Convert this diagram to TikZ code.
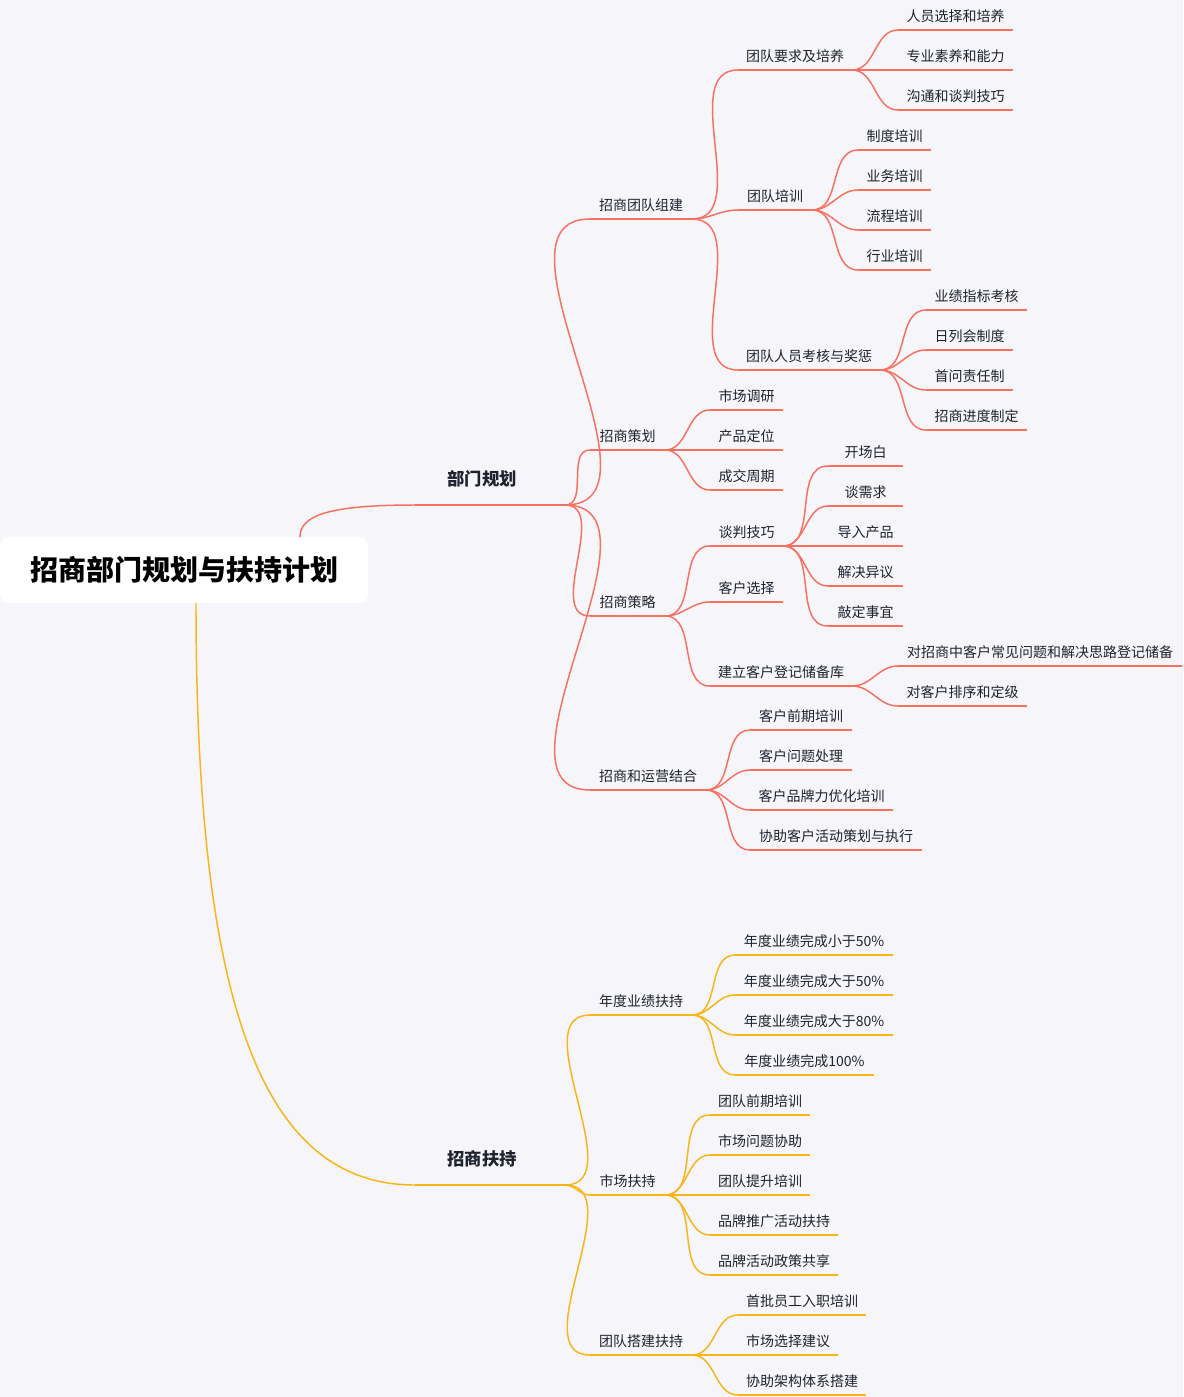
\documentclass[tikz,border=0pt]{standalone}
\usepackage{fontspec}
\setmainfont{Noto Sans CJK SC}
\definecolor{rd}{RGB}{248,112,96}
\definecolor{yl}{RGB}{249,181,22}
\definecolor{bg}{RGB}{245,245,250}
\definecolor{tx}{RGB}{30,35,45}
\newcommand\lf[6]{% color,name,x1,x2,y,text
 \draw[#1,line width=1.1pt] (#3,#5) coordinate (#2s) -- (#4,#5) coordinate (#2e);
 \node[font=\fontsize{10.5}{12}\selectfont,text=tx,inner sep=0pt] (#2) at ({(#3+#4)/2},{#5-14}) {#6};}
\newcommand\cn[3]{\draw[#1,line width=1.1pt] (#2e) to[out=0,in=180] (#3s);}
\begin{document}
\begin{tikzpicture}[x=0.75pt,y=-0.75pt]
\fill[bg] (0,0) rectangle (1183,1397);
\useasboundingbox (0,0) rectangle (1183,1397);
\fill[white,rounded corners=6pt] (0,537) rectangle (368,603);
\node[font=\fontsize{21}{24}\selectfont\bfseries,text=black] (root) at (185,570) {招商部门规划与扶持计划};
\coordinate (roote) at (300,537);
\coordinate (rootb) at (196,603);
% main branches
\draw[rd,line width=1.1pt] (415,505) coordinate (bms) -- (565,505) coordinate (bme);
\node[font=\fontsize{13}{15}\selectfont\bfseries,text=tx] (bm) at (482,479) {部门规划};
\draw[yl,line width=1.1pt] (415,1185) coordinate (bys) -- (565,1185) coordinate (bye);
\node[font=\fontsize{13}{15}\selectfont\bfseries,text=tx] (by) at (482,1159) {招商扶持};
\draw[rd,line width=1.1pt] (roote) .. controls (300,515) and (330,505) .. (bms);
\draw[yl,line width=1.1pt] (rootb) .. controls (196,1000) and (260,1185) .. (bys);
% red level 2
\lf{rd}{a}{590}{692}{219}{招商团队组建}
\lf{rd}{b}{590}{665}{450}{招商策划}
\lf{rd}{c}{590}{665}{616}{招商策略}
\lf{rd}{d}{590}{706}{790}{招商和运营结合}
\foreach \n in {a,b,c,d}{\cn{rd}{bm}{\n}}
% a
\lf{rd}{a1}{738}{852}{70}{团队要求及培养}
\lf{rd}{a2}{738}{812}{210}{团队培训}
\lf{rd}{a3}{738}{880}{370}{团队人员考核与奖惩}
\foreach \n in {a1,a2,a3}{\cn{rd}{a}{\n}}
\lf{rd}{a11}{898}{1013}{30}{人员选择和培养}
\lf{rd}{a12}{898}{1013}{70}{专业素养和能力}
\lf{rd}{a13}{898}{1013}{110}{沟通和谈判技巧}
\foreach \n in {a11,a12,a13}{\cn{rd}{a1}{\n}}
\lf{rd}{a21}{858}{931}{150}{制度培训}
\lf{rd}{a22}{858}{931}{190}{业务培训}
\lf{rd}{a23}{858}{931}{230}{流程培训}
\lf{rd}{a24}{858}{931}{270}{行业培训}
\foreach \n in {a21,a22,a23,a24}{\cn{rd}{a2}{\n}}
\lf{rd}{a31}{926}{1027}{310}{业绩指标考核}
\lf{rd}{a32}{926}{1013}{350}{日列会制度}
\lf{rd}{a33}{926}{1013}{390}{首问责任制}
\lf{rd}{a34}{926}{1027}{430}{招商进度制定}
\foreach \n in {a31,a32,a33,a34}{\cn{rd}{a3}{\n}}
% b
\lf{rd}{b1}{710}{783}{410}{市场调研}
\lf{rd}{b2}{710}{783}{450}{产品定位}
\lf{rd}{b3}{710}{783}{490}{成交周期}
\foreach \n in {b1,b2,b3}{\cn{rd}{b}{\n}}
% c
\lf{rd}{c1}{710}{783}{546}{谈判技巧}
\lf{rd}{c2}{710}{783}{602}{客户选择}
\lf{rd}{c3}{710}{852}{686}{建立客户登记储备库}
\foreach \n in {c1,c2,c3}{\cn{rd}{c}{\n}}
\lf{rd}{c11}{828}{903}{466}{开场白}
\lf{rd}{c12}{828}{903}{506}{谈需求}
\lf{rd}{c13}{828}{903}{546}{导入产品}
\lf{rd}{c14}{828}{903}{586}{解决异议}
\lf{rd}{c15}{828}{903}{626}{敲定事宜}
\foreach \n in {c11,c12,c13,c14,c15}{\cn{rd}{c1}{\n}}
\lf{rd}{c31}{898}{1182}{666}{对招商中客户常见问题和解决思路登记储备}
\lf{rd}{c32}{898}{1027}{706}{对客户排序和定级}
\foreach \n in {c31,c32}{\cn{rd}{c3}{\n}}
% d
\lf{rd}{d1}{750}{852}{730}{客户前期培训}
\lf{rd}{d2}{750}{852}{770}{客户问题处理}
\lf{rd}{d3}{750}{893}{810}{客户品牌力优化培训}
\lf{rd}{d4}{750}{922}{850}{协助客户活动策划与执行}
\foreach \n in {d1,d2,d3,d4}{\cn{rd}{d}{\n}}
% yellow
\lf{yl}{e}{590}{692}{1015}{年度业绩扶持}
\lf{yl}{f}{590}{665}{1195}{市场扶持}
\lf{yl}{g}{590}{692}{1355}{团队搭建扶持}
\foreach \n in {e,f,g}{\cn{yl}{by}{\n}}
\lf{yl}{e1}{735}{893}{955}{年度业绩完成小于50\%}
\lf{yl}{e2}{735}{893}{995}{年度业绩完成大于50\%}
\lf{yl}{e3}{735}{893}{1035}{年度业绩完成大于80\%}
\lf{yl}{e4}{735}{874}{1075}{年度业绩完成100\%}
\foreach \n in {e1,e2,e3,e4}{\cn{yl}{e}{\n}}
\lf{yl}{f1}{710}{810}{1115}{团队前期培训}
\lf{yl}{f2}{710}{810}{1155}{市场问题协助}
\lf{yl}{f3}{710}{810}{1195}{团队提升培训}
\lf{yl}{f4}{710}{838}{1235}{品牌推广活动扶持}
\lf{yl}{f5}{710}{838}{1275}{品牌活动政策共享}
\foreach \n in {f1,f2,f3,f4,f5}{\cn{yl}{f}{\n}}
\lf{yl}{g1}{738}{866}{1315}{首批员工入职培训}
\lf{yl}{g2}{738}{838}{1355}{市场选择建议}
\lf{yl}{g3}{738}{866}{1395}{协助架构体系搭建}
\foreach \n in {g1,g2,g3}{\cn{yl}{g}{\n}}
\end{tikzpicture}
\end{document}
